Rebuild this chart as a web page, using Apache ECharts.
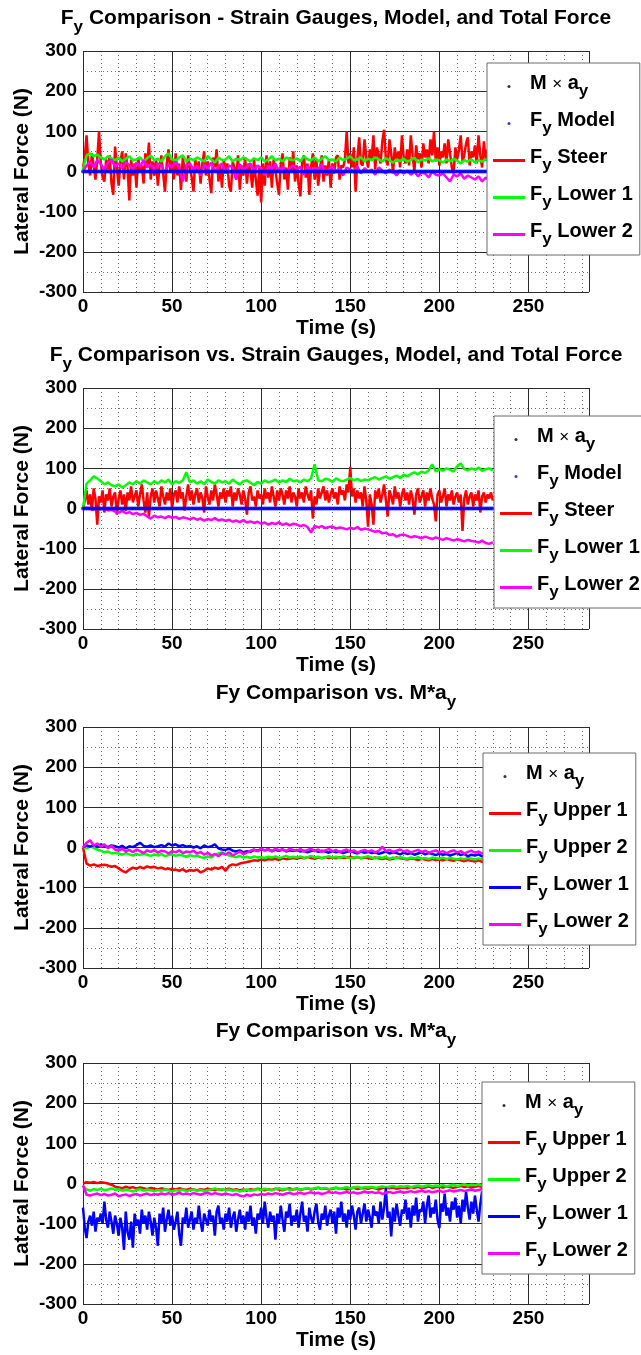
<!DOCTYPE html>
<html>
<head>
<meta charset="utf-8">
<title>Lateral force comparison</title>
<script src="https://cdn.jsdelivr.net/npm/echarts@6/dist/echarts.min.js"></script>
<style>
  html, body { margin: 0; padding: 0; background: #fff; }
  #chart { width: 641px; height: 1355px; }
</style>
</head>
<body>
<div id="chart"></div>
<script>
// ---- sampling of the recorded signals (seconds between samples) ----
const stepFast = 1;
const stepSlow = 2;

// ---- axis ranges ----
const timeMin = 0, timeMax = 284;
const forceMin = -300, forceMax = 300;

// M x a_y was not available for this run: legend entry only
const accelForce = [];

// model prediction of F_y (N), 1 s samples
const modelForce = [
  0,0,0,0,0,0,0,0,0,0, 0,0,0,0,0,0,0,0,0,0, 0,0,0,0,0,0,0,0,0,0,
  0,0,0,0,0,0,0,0,0,0, 0,0,0,0,0,0,0,0,0,0, 0,0,0,0,0,0,0,0,0,0,
  0,0,0,0,0,0,0,0,0,0, 0,0,0,0,0,0,0,0,0,0, 0,0,0,0,0,0,0,0,0,0,
  0,0,0,0,0,0,0,0,0,0, 0,0,0,0,0,0,0,0,0,0, 0,0,0,0,0,0,0,0,0,0,
  0,0,0,0,0,0,0,0,0,0, 0,0,0,0,0,0,0,0,0,0, 0,0,0,0,0,0,0,0,0,0,
  0,0,0,0,0,0,0,0,0,0, 0,0,0,0,0,0,0,0,0,0, 0,0,0,0,0,0,0,0,0,0,
  0,0,0,0,0,0,0,0,0,0, 0,0,0,0,0,0,0,0,0,0, 0,0,0,0,0,0,0,0,0,0,
  0,0,0,0,0,0,0,0,0,0, 0,0,0,0,0,0,0,0,0,0, 0
];

// ---- run 1: strain gauges (N) ----
const run1Steer = [
  10, 35, 90, 20, -10, 45, 15, -20, 30, 100,
  20, -15, -25, 30, 5, 40, -30, -58, 62, 10,
  -35, 25, 50, -20, 45, 10, -72, 30, -10, 20,
  -40, 35, 0, 15, -30, 45, 10, 72, -20, 25,
  -10, 30, -35, 15, 40, -5, -50, 20, 55, 0,
  30, -20, 45, -10, 20, -46, 35, 5, -25, 40,
  10, -15, -50, 30, 0, 25, -30, 20, 50, -10,
  25, -20, -54, 35, 10, 55, -25, 15, -40, 30,
  0, 20, -35, -50, 25, 10, -20, 40, -45, 15,
  -10, 35, -30, 20, 0, -40, 30, -20, -60, 10,
  -77, 20, -35, 40, -15, 25, -40, 30, 5, -30,
  -58, 20, 45, -20, 10, -45, 35, 0, 50, -25,
  15, -30, -62, 25, 40, -15, 20, -58, 10, 45,
  -20, 30, -35, 5, 40, -25, 15, -10, 30, -40,
  20, -5, 35, 40, -20, 15, 10, 30, 100, 20,
  45, 10, 60, -50, 30, 85, 20, 15, 80, 35,
  10, 55, 30, 90, 5, 60, 40, 20, 75, 104,
  30, 15, 80, 45, -5, 60, 25, 50, 10, 90,
  35, 20, 55, 15, 90, 40, 0, 65, 30, 45,
  10, 70, 35, 55, 20, 80, 40, 100, 25, 60,
  15, 50, 35, 70, 20, 80, 45, 10, -5, 60,
  30, 55, 90, 25, 40, 70, 85, 15, 50, 35,
  65, 20, 90, 40, 10, 75, 30, 55, 20, 45,
  35
];
const run1Lower1 = [
  5, 40, 45, 38, 42, 35, 30, 38, 33, 28,
  35, 25, 32, 38, 28, 30, 35, 25, 33, 40,
  28, 32, 25, 38, 45, 30, 28, 35, 40, 25,
  32, 28, 35, 30, 25, 38, 30, 22, 35, 28,
  30, 38, 25, 32, 28, 35, 30, 25, 33, 28,
  35, 25, 30, 38, 28, 32, 25, 35, 30, 28,
  33, 25, 38, 30, 28, 35, 25, 32, 38, 28,
  30, 25, 35, 28, 32, 38, 28, 30, 35, 25,
  32, 28, 35, 30, 25, 33, 28, 22, 30, 26,
  32, 25, 28, 35, 22, 30, 27, 33, 25, 30,
  28, 22, 30, 25, 32, 27, 20, 28, 25, 30,
  22, 28, 25, 30, 26, 24
];
const run1Lower2 = [
  0, 15, 25, 10, 28, 18, 5, 22, 30, 12,
  20, 8, 25, 15, 5, 22, 12, 28, 10, 18,
  5, 20, 15, -5, 18, 10, 25, 8, -25, 15,
  20, 5, 15, -10, 18, 8, 22, 0, 12, 20,
  -5, 15, 10, -20, 18, 5, 12, 20, 0, 15,
  8, -10, 15, 5, 20, 0, 12, -5, 10, 15,
  5, 12, -8, 15, 0, 10, 5, 18, -5, 8,
  12, 0, 8, -10, 10, 5, 0, 12, -5, 8,
  0, 5, -8, 10, 2, -5, 5, 0, -10, 3,
  -5, 2, -8, 0, -12, -3, -5, -15, 0, -8,
  -10, -5, -15, -25, -8, -12, -5, -18, -10, -15,
  -20, -12, -25, -15, -22, -30
];

// ---- run 2: strain gauges (N) ----
const run2Steer = [
  0, 20, 45, 10, 35, -5, 50, 25, -40, 30,
  15, 45, -10, 35, 20, 50, 5, 30, 40, -15,
  25, 45, 10, 35, -5, 40, 20, 55, 15, 30,
  45, 5, 35, 60, 20, -10, 40, -20, 30, 50,
  15, 45, 25, 5, 55, 30, 10, 40, 20, 50,
  0, 35, 45, 15, 55, 25, 40, -5, 30, 60,
  20, 45, 10, 35, 50, 15, 40, 25, -10, 55,
  30, 10, 45, 20, 60, 35, 5, 40, 25, 50,
  15, 45, 30, 55, 5, 40, 20, 50, 35, 10,
  45, 25, -15, 40, 55, 20, 30, 5, 45, 25,
  35, 10, 50, 25, 40, 15, 55, 30, 5, 45,
  20, 50, 35, 10, 45, 25, 55, 15, 40, 30,
  5, 50, 25, 40, 15, 55, 35, 20, 45, -25,
  30, 10, 50, 25, 40, 55, 20, 45, 15, 35,
  50, 25, 40, 10, 55, 35, 45, 20, 60, 40,
  104, 30, 50, 15, 45, 25, 40, 5, 55, 20,
  -45, 35, 10, -40, 45, 25, 50, 15, 35, 60,
  20, -20, 45, 30, 10, 55, 25, 40, 5, 35,
  50, 20, 40, 10, 45, 25, -15, 35, 50, 15,
  30, 45, 5, 40, 20, 50, 25, 10, -32, 35,
  45, 15, 30, 50, 5, 35, 20, 45, 10, 30,
  40, 15, 35, -56, 25, 45, 10, 30, 40, 5,
  35, 20, 45, -10, 30, 40, 15, 35, 25, 40,
  20
];
const run2Lower1 = [
  0, 62, 70, 80, 75, 68, 60, 65, 58, 55,
  60, 52, 58, 65, 60, 68, 62, 70, 65, 60,
  68, 62, 70, 65, 72, 60, 68, 64, 70, 90,
  65, 70, 62, 68, 60, 72, 66, 62, 70, 65,
  68, 62, 72, 65, 60, 68, 70, 64, 58, 66,
  62, 70, 65, 68, 72, 64, 70, 66, 74, 68,
  70, 65, 72, 68, 75, 110, 70, 68, 74, 72,
  66, 75, 70, 68, 72, 76, 70, 74, 68, 72,
  70, 75, 78, 72, 76, 80, 74, 78, 82, 76,
  84, 80, 86, 90, 85, 92, 88, 95, 110, 92,
  98, 94, 100, 96, 92, 105, 112, 98, 95, 100,
  96, 102, 94, 98, 100, 95
];
const run2Lower2 = [
  0, 2, 0, -3, 1, -2, 0, -5, -3, -8,
  -10, -6, -12, -9, -14, -11, -16, -13, -20, -25,
  -18, -22, -20, -24, -19, -23, -21, -26, -22, -24,
  -27, -23, -28, -25, -30, -26, -29, -24, -30, -27,
  -31, -28, -33, -30, -34, -29, -35, -32, -36, -33,
  -38, -35, -40, -36, -39, -34, -41, -37, -42, -38,
  -40, -44, -41, -46, -60, -43, -47, -44, -49, -46,
  -45, -50, -47, -49, -52, -48, -51, -46, -53, -50,
  -52, -55, -58, -56, -62, -60, -66, -64, -70, -66,
  -65, -68, -72, -69, -71, -74, -70, -73, -76, -72,
  -75, -78, -74, -77, -80, -76, -79, -82, -78, -81,
  -82, -85, -80, -86, -88, -84
];

// ---- run 3: upper / lower gauges (N) ----
const run3Upper1 = [
  0, -40, -45, -42, -46, -44, -43, -45, -48, -46,
  -52, -58, -62, -55, -50, -53, -48, -52, -47, -50,
  -48, -52, -50, -54, -52, -56, -55, -58, -54, -60,
  -56, -58, -55, -62, -58, -52, -55, -50, -53, -48,
  -58, -46, -42, -44, -40, -38, -36, -34, -32, -33,
  -30, -32, -29, -30, -28, -31, -27, -29, -28, -26,
  -28, -25, -27, -24, -26, -28, -25, -27, -24, -26,
  -25, -27, -24, -26, -25, -23, -26, -24, -27, -25,
  -26, -28, -25, -27, -29, -26, -30, -28, -25, -27,
  -28, -30, -27, -29, -31, -28, -30, -32, -29, -31,
  -30, -32, -29, -31, -33, -30, -32, -34, -31, -33,
  -35, -32, -36, -33, -35, -34
];
const run3Upper2 = [
  0, -2, 3, -1, -5, -8, -12, -10, -15, -13,
  -15, -18, -14, -17, -20, -16, -19, -15, -18, -21,
  -17, -20, -16, -22, -19, -17, -21, -18, -20, -23,
  -19, -22, -20, -24, -26, -22, -25, -18, -15, -12,
  -16, -20, -22, -24, -21, -25, -23, -26, -22, -25,
  -24, -26, -23, -25, -22, -26, -24, -21, -25, -23,
  -25, -22, -26, -24, -21, -25, -23, -26, -24, -22,
  -25, -23, -26, -22, -24, -27, -25, -23, -26, -24,
  -22, -25, -27, -24, -26, -23, -28, -25, -27, -24,
  -26, -28, -25, -27, -24, -28, -26, -29, -25, -27,
  -28, -25, -29, -26, -28, -30, -27, -29, -26, -28,
  -30, -27, -29, -31, -28, -30
];
const run3Lower1 = [
  0, 5, 2, 6, 3, 8, 4, 1, 5, 3,
  0, 4, -2, 3, 1, 6, 12, 4, 2, 5,
  1, 3, 6, 2, 10, 5, 8, 3, 6, 2,
  4, 0, 3, -2, 5, 1, 3, 8, -2, -5,
  -6, -3, -8, -10, -7, -12, -9, -11, -6, -8,
  -4, -7, -5, -9, -6, -8, -5, -10, -7, -9,
  -6, -10, -8, -12, -9, -7, -11, -8, -10, -13,
  -9, -12, -10, -14, -11, -8, -12, -15, -10, -13,
  -11, -14, -12, -16, -13, -10, -15, -12, -14, -17,
  -13, -16, -14, -18, -15, -12, -17, -14, -16, -19,
  -15, -18, -16, -20, -17, -14, -19, -16, -22, -18,
  -20, -17, -22, -19, -21, -20
];
const run3Lower2 = [
  0, 12, 18, 5, 10, 2, 8, -2, 4, -5,
  -8, -3, -10, -6, -12, -5, -9, -14, -7, -11,
  -6, -13, -8, -10, -15, -9, -12, -7, -14, -10,
  -12, -8, -15, -11, -18, -13, -20, -16, -22, -14,
  -18, -12, -20, -15, -10, -17, -13, -8, -5, -10,
  -3, -8, -4, -10, -2, -7, -5, -9, -3, -6,
  -8, -4, -10, -6, -3, -9, -5, -11, -7, -4,
  -9, -6, -12, -8, -5, -11, -7, -13, -9, -6,
  -10, -7, -12, -8, 2, -9, -6, -11, -8, -5,
  -10, -7, -12, -9, -6, -11, -8, -13, -10, -7,
  -12, -9, -14, -10, -7, -12, -9, -15, -11, -8,
  -13, -10, -15, -12, -14, -11
];

// ---- run 4: upper / lower gauges (N) ----
const run4Upper1 = [
  0, 3, 2, 4, 1, 3, 2, 0, -3, -8,
  -10, -12, -8, -11, -9, -13, -10, -12, -14, -11,
  -13, -15, -12, -14, -16, -13, -15, -12, -14, -16,
  -13, -15, -17, -14, -16, -13, -15, -17, -14, -16,
  -15, -13, -16, -14, -17, -15, -18, -14, -16, -13,
  -15, -17, -14, -16, -13, -15, -17, -14, -12, -15,
  -13, -16, -14, -12, -15, -13, -11, -14, -12, -15,
  -13, -11, -14, -12, -15, -13, -10, -14, -12, -11,
  -13, -10, -12, -15, -11, -9, -12, -10, -13, -11,
  -10, -12, -9, -11, -8, -12, -10, -7, -11, -9,
  -8, -10, -7, -9, -11, -8, -6, -9, -7, -10,
  -8, -6, -9, -7, -5, -8
];
const run4Upper2 = [
  -5, -15, -18, -14, -16, -13, -17, -15, -12, -16,
  -14, -18, -15, -17, -20, -16, -14, -18, -15, -17,
  -19, -16, -18, -15, -17, -20, -16, -18, -15, -19,
  -17, -15, -18, -16, -19, -17, -15, -12, -16, -14,
  -17, -15, -18, -16, -20, -17, -15, -18, -16, -14,
  -16, -13, -15, -17, -14, -12, -15, -13, -16, -14,
  -12, -15, -13, -11, -14, -12, -10, -13, -11, -14,
  -12, -10, -13, -11, -9, -12, -10, -8, -11, -9,
  -10, -8, -11, -9, -7, -10, -8, -6, -9, -7,
  -8, -6, -9, -7, -5, -8, -6, -4, -7, -5,
  -6, -4, -7, -5, -3, -6, -4, -2, -5, -3,
  -4, -2, -5, -3, -1, -4
];
const run4Lower1 = [
  -60, -110, -136, -95, -80, -105, -70, -120, -85, -95,
  -75, -100, -45, -90, -110, -70, -95, -125, -80, -100,
  -130, -85, -110, -165, -70, -120, -140, -95, -160, -75,
  -105, -90, -125, -65, -100, -80, -115, -70, -95, -130,
  -85, -110, -155, -75, -100, -60, -120, -90, -65, -105,
  -80, -115, -95, -70, -125, -155, -85, -100, -60, -110,
  -90, -70, -115, -85, -100, -55, -95, -120, -75, -90,
  -105, -65, -95, -80, -130, -70, -55, -100, -85, -115,
  -75, -95, -60, -110, -85, -70, -120, -90, -65, -100,
  -80, -115, -70, -95, -55, -105, -85, -125, -75, -90,
  -60, -100, -45, -85, -110, -70, -95, -80, -140, -75,
  -100, -55, -90, -120, -70, -85, -50, -105, -80, -95,
  -65, -110, -75, -45, -95, -80, -120, -60, -85, -100,
  -70, -50, -95, -115, -75, -90, -55, -105, -80, -65,
  -100, -70, -125, -60, -85, -45, -95, -75, -110, -65,
  -90, -55, -80, -115, -70, -60, -100, -75, -50, -95,
  -65, -85, -110, -55, -80, -70, -100, -45, -90, -60,
  -11, -85, -70, -132, -60, -95, -50, -80, -105, -65,
  -75, -40, -90, -60, -110, -55, -80, -35, -95, -65,
  -70, -45, -100, -55, -30, -85, -60, -75, -40, -90,
  -111, -50, -70, -25, -80, -60, -95, -45, -65, -35,
  -85, -55, -100, -40, -70, -20, -60, -90, -45, -75,
  -30, -65, -95, -50, -20, -80, -55, -40, -70, -45,
  -60
];
const run4Lower2 = [
  -5, -28, -30, -27, -25, -29, -26, -30, -28, -25,
  -32, -29, -27, -31, -28, -26, -30, -27, -25, -29,
  -26, -28, -25, -27, -24, -28, -26, -23, -27, -25,
  -27, -24, -26, -28, -25, -23, -27, -24, -26, -28,
  -25, -27, -29, -26, -30, -32, -28, -31, -27, -29,
  -26, -28, -25, -27, -24, -26, -28, -25, -23, -27,
  -25, -23, -26, -24, -22, -25, -23, -26, -24, -21,
  -24, -22, -25, -23, -21, -24, -22, -25, -23, -20,
  -23, -21, -24, -22, -26, -23, -21, -24, -22, -20,
  -23, -21, -19, -22, -20, -18, -21, -19, -22, -20,
  -18, -21, -19, -17, -20, -18, -16, -19, -17, -15,
  -18, -16, -14, -17, -15, -16
];

// ---- text ----
const FONT = 'Liberation Sans';
const titleTexts = [
  '{b|F}{s|y}{b| Comparison - Strain Gauges, Model, and Total Force}',
  '{b|F}{s|y}{b| Comparison vs. Strain Gauges, Model, and Total Force}',
  '{b|Fy Comparison vs. M*a}{s|y}',
  '{b|Fy Comparison vs. M*a}{s|y}'
];
const xAxisTitle = 'Time (s)';
const yAxisTitle = 'Lateral Force (N)';
const legendLabels = {
  accel: '{b|M }{x|×}{b| a}{s|y}',
  model: '{b|F}{s|y}{b| Model}',
  steer: '{b|F}{s|y}{b| Steer}',
  upper1: '{b|F}{s|y}{b| Upper 1}',
  upper2: '{b|F}{s|y}{b| Upper 2}',
  lower1: '{b|F}{s|y}{b| Lower 1}',
  lower2: '{b|F}{s|y}{b| Lower 2}'
};

// ---- colours ----
const RED = '#ff0000', GREEN = '#00ff00', BLUE = '#0000ff', MAGENTA = '#ff00ff', BLACK = '#000000';

// ---- panel contents: [label key, kind, colour, values, sample step] ----
const panels = [
  [
    ['accel', 'dots', BLACK, accelForce, stepFast],
    ['model', 'dots', BLUE, modelForce, stepFast],
    ['steer', 'line', RED, run1Steer, stepFast],
    ['lower1', 'line', GREEN, run1Lower1, stepSlow],
    ['lower2', 'line', MAGENTA, run1Lower2, stepSlow]
  ],
  [
    ['accel', 'dots', BLACK, accelForce, stepFast],
    ['model', 'dots', BLUE, modelForce, stepFast],
    ['steer', 'line', RED, run2Steer, stepFast],
    ['lower1', 'line', GREEN, run2Lower1, stepSlow],
    ['lower2', 'line', MAGENTA, run2Lower2, stepSlow]
  ],
  [
    ['accel', 'dots', BLACK, accelForce, stepFast],
    ['upper1', 'line', RED, run3Upper1, stepSlow],
    ['upper2', 'line', GREEN, run3Upper2, stepSlow],
    ['lower1', 'line', BLUE, run3Lower1, stepSlow],
    ['lower2', 'line', MAGENTA, run3Lower2, stepSlow]
  ],
  [
    ['accel', 'dots', BLACK, accelForce, stepFast],
    ['upper1', 'line', RED, run4Upper1, stepSlow],
    ['upper2', 'line', GREEN, run4Upper2, stepSlow],
    ['lower1', 'line', BLUE, run4Lower1, stepFast],
    ['lower2', 'line', MAGENTA, run4Lower2, stepSlow]
  ]
];

// ---- layout (pixels) ----
const plotLeft = 83, plotWidth = 506, plotHeight = 241;
const plotTops = [51, 388, 727, 1063];
const titleTops = [8, 345, 683, 1021];
const titleCenterX = 336;
const legendCorners = [[487, 63], [494, 416], [483, 753], [482, 1082]];

const richTitle = {
  b: { fill: '#000', fontFamily: FONT, fontWeight: 'bold', fontSize: 21, verticalAlign: 'top' },
  s: { fill: '#000', fontFamily: FONT, fontWeight: 'bold', fontSize: 17, verticalAlign: 'top', padding: [11, 0, 0, 0] }
};
const richLegend = {
  b: { color: '#000', fontFamily: FONT, fontWeight: 'bold', fontSize: 20, verticalAlign: 'top' },
  s: { color: '#000', fontFamily: FONT, fontWeight: 'bold', fontSize: 17, verticalAlign: 'top', padding: [10, 0, 0, 0] },
  x: { color: '#000', fontFamily: FONT, fontWeight: 'normal', fontSize: 17, verticalAlign: 'top', padding: [3, 0, 0, 0] }
};

const majorLine = { color: '#2b2b2b', width: 1 };
const minorLine = { color: '#6a6a6a', width: 1, type: [1, 3] };

const grids = [], xAxes = [], yAxes = [], series = [], legends = [], graphics = [];
const nameToLabel = {};

panels.forEach((entries, k) => {
  grids.push({
    left: plotLeft, top: plotTops[k], width: plotWidth, height: plotHeight,
    containLabel: false, outerBoundsMode: 'none', show: false
  });
  const major = 2 * k, minor = 2 * k + 1;
  // major x axis: labels + solid grid every 50 s
  xAxes[major] = {
    type: 'value', gridIndex: k, min: timeMin, max: timeMax, interval: 50, z: 1,
    name: xAxisTitle, nameLocation: 'middle', nameGap: 26, nameMoveOverlap: false,
    nameTextStyle: { color: '#000', fontFamily: FONT, fontWeight: 'bold', fontSize: 21 },
    axisLine: { show: false }, axisTick: { show: false },
    axisLabel: { color: '#000', fontFamily: FONT, fontWeight: 'bold', fontSize: 19, margin: 5,
                 showMaxLabel: false, showMinLabel: true, hideOverlap: false },
    splitLine: { show: true, lineStyle: majorLine }
  };
  // minor x axis: dotted grid every 10 s
  xAxes[minor] = {
    type: 'value', gridIndex: k, min: timeMin, max: timeMax, interval: 10, z: 0,
    axisLine: { show: false }, axisTick: { show: false }, axisLabel: { show: false },
    splitLine: { show: true, lineStyle: minorLine }
  };
  yAxes[major] = {
    type: 'value', gridIndex: k, min: forceMin, max: forceMax, interval: 100, z: 1,
    name: yAxisTitle, nameLocation: 'middle', nameGap: 50, nameRotate: 90, nameMoveOverlap: false,
    nameTextStyle: { color: '#000', fontFamily: FONT, fontWeight: 'bold', fontSize: 21 },
    axisLine: { show: false }, axisTick: { show: false },
    axisLabel: { color: '#000', fontFamily: FONT, fontWeight: 'bold', fontSize: 19, margin: 6,
                 showMaxLabel: true, showMinLabel: true, hideOverlap: false },
    splitLine: { show: true, lineStyle: majorLine }
  };
  yAxes[minor] = {
    type: 'value', gridIndex: k, min: forceMin, max: forceMax, interval: 50, z: 0,
    axisLine: { show: false }, axisTick: { show: false }, axisLabel: { show: false },
    splitLine: { show: true, lineStyle: minorLine }
  };

  const legendData = [];
  entries.forEach(([key, kind, color, values, step]) => {
    const name = key + '_' + (k + 1);
    nameToLabel[name] = legendLabels[key];
    const data = values.map((v, i) => [i * step, v]);
    const common = {
      name, xAxisIndex: major, yAxisIndex: major, data,
      silent: true, animation: false, emphasis: { disabled: true }, z: 2
    };
    if (kind === 'dots') {
      series.push(Object.assign(common, {
        type: 'scatter', symbol: 'circle', symbolSize: 4,
        itemStyle: { color, borderWidth: 0 }
      }));
      legendData.push({ name, icon: 'circle' });
    } else {
      series.push(Object.assign(common, {
        type: 'line', symbol: 'none', showSymbol: false,
        lineStyle: { color, width: 2.5 }, itemStyle: { color }
      }));
      legendData.push({ name, icon: 'rect' });
    }
  });

  legends.push({
    orient: 'vertical', left: legendCorners[k][0], top: legendCorners[k][1],
    itemWidth: 32, itemHeight: 3, itemGap: 10,
    padding: [10, 7, 7, 6], align: 'left',
    backgroundColor: '#ffffff', borderColor: '#6b6b6b', borderWidth: 1, borderRadius: 0,
    selectedMode: false, z: 10,
    itemStyle: { borderWidth: 0 },
    data: legendData,
    formatter: (n) => nameToLabel[n],
    textStyle: { color: '#000', fontFamily: FONT, fontWeight: 'bold', fontSize: 20, rich: richLegend }
  });

  graphics.push({
    type: 'text', x: titleCenterX, y: titleTops[k], z: 20, silent: true,
    style: {
      text: titleTexts[k], rich: richTitle, align: 'center', verticalAlign: 'top',
      fill: '#000', fontFamily: FONT, fontWeight: 'bold', fontSize: 21
    }
  });
});

const chart = echarts.init(document.getElementById('chart'), null, { renderer: 'canvas', width: 641, height: 1355 });
chart.setOption({
  animation: false,
  backgroundColor: '#ffffff',
  textStyle: { fontFamily: FONT },
  grid: grids,
  xAxis: xAxes,
  yAxis: yAxes,
  legend: legends,
  series: series,
  graphic: graphics
});
</script>
</body>
</html>
